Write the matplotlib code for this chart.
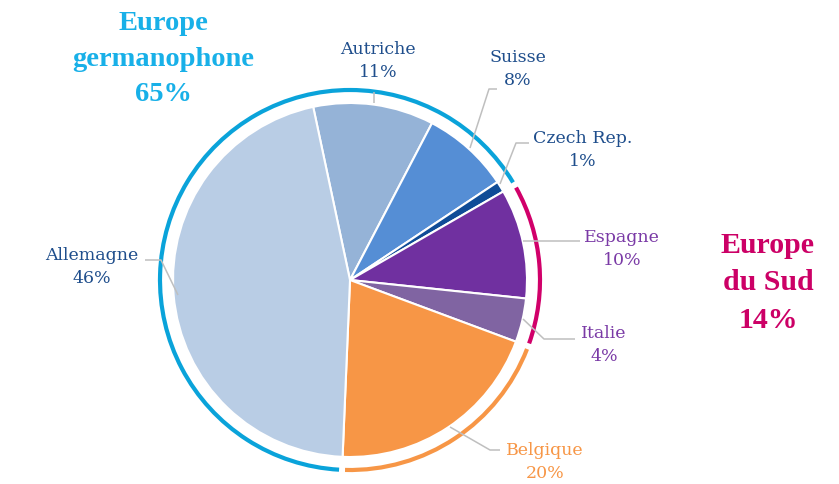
import numpy as np
import matplotlib.pyplot as plt
from matplotlib.patches import Arc

# données
pays = ["Autriche", "Suisse", "Czech Rep.", "Espagne", "Italie", "Belgique", "Allemagne"]
parts = [11, 8, 1, 10, 4, 20, 46]
couleurs = ["#95B3D7", "#558ED5", "#0F4C97", "#7030A0", "#8064A2", "#F79646", "#B9CDE5"]
couleurs_texte = ["#1F4E8C", "#1F4E8C", "#1F4E8C", "#7A3AA6", "#7A3AA6", "#F79646", "#1F4E8C"]

groupes = ["Europe\ngermanophone\n65%", "Europe\ndu Sud\n14%"]
couleurs_groupes = ["#18B0E8", "#CC0066"]

W, H = 839, 485
cx, cy, r = 350, H - 281, 177
start = 102

fig = plt.figure(figsize=(W / 100, H / 100), dpi=100)
ax = fig.add_axes([0, 0, 1, 1])

wedges, _ = ax.pie(parts, colors=couleurs, startangle=start, counterclock=False,
                   center=(cx, cy), radius=r, frame=True,
                   wedgeprops=dict(edgecolor="white", linewidth=1.5))
ax.set_xlim(0, W)
ax.set_ylim(0, H)
ax.axis("off")

# angles des limites de secteurs (sens horaire)
bornes = start - 360 * np.cumsum([0] + parts) / 100
# arcs de regroupement
gap = 0.9
ra = 190
arcs = [
    (bornes[3] + gap, bornes[6] + 360 - gap, "#0AA3DA"),   # germanophone
    (bornes[5] + gap, bornes[3] - gap, "#D1006A"),          # sud
    (bornes[6] + gap, bornes[5] - gap, "#F79646"),          # Belgique
]
for t1, t2, c in arcs:
    ax.add_patch(Arc((cx, cy), 2 * ra, 2 * ra, theta1=t1, theta2=t2,
                     color=c, linewidth=3))

# lignes de rappel (pixels image)
lignes = [
    [(374, 104), (374, 93)],
    [(470, 149), (489, 90), (497, 90)],
    [(500, 185), (516, 144), (529, 144)],
    [(523, 242), (580, 242)],
    [(523, 320), (544, 340), (575, 340)],
    [(450, 428), (490, 451), (500, 451)],
    [(178, 296), (161, 261), (145, 261)],
]
pos_texte = [(378, 61), (518, 69), (583, 150), (622, 249), (604, 345), (545, 462), (92, 267)]

for nom, p, c, pts, (tx, ty) in zip(pays, parts, couleurs_texte, lignes, pos_texte):
    xs = [x for x, y in pts]
    ys = [H - y for x, y in pts]
    ax.plot(xs, ys, color="#BFBFBF", linewidth=1.1, solid_capstyle="butt")
    ax.text(tx, H - ty, f"{nom}\n{p}%", ha="center", va="center", color=c,
            fontsize=12.5, family="DejaVu Serif", linespacing=1.5)

ax.text(163, H - 59, groupes[0], ha="center", va="center", color=couleurs_groupes[0],
        fontsize=20.5, fontweight="bold", family="Liberation Serif", linespacing=1.55)
ax.text(768, H - 283, groupes[1], ha="center", va="center", color=couleurs_groupes[1],
        fontsize=21.5, fontweight="bold", family="Liberation Serif", linespacing=1.5)

fig.savefig("out.png", dpi=100)
